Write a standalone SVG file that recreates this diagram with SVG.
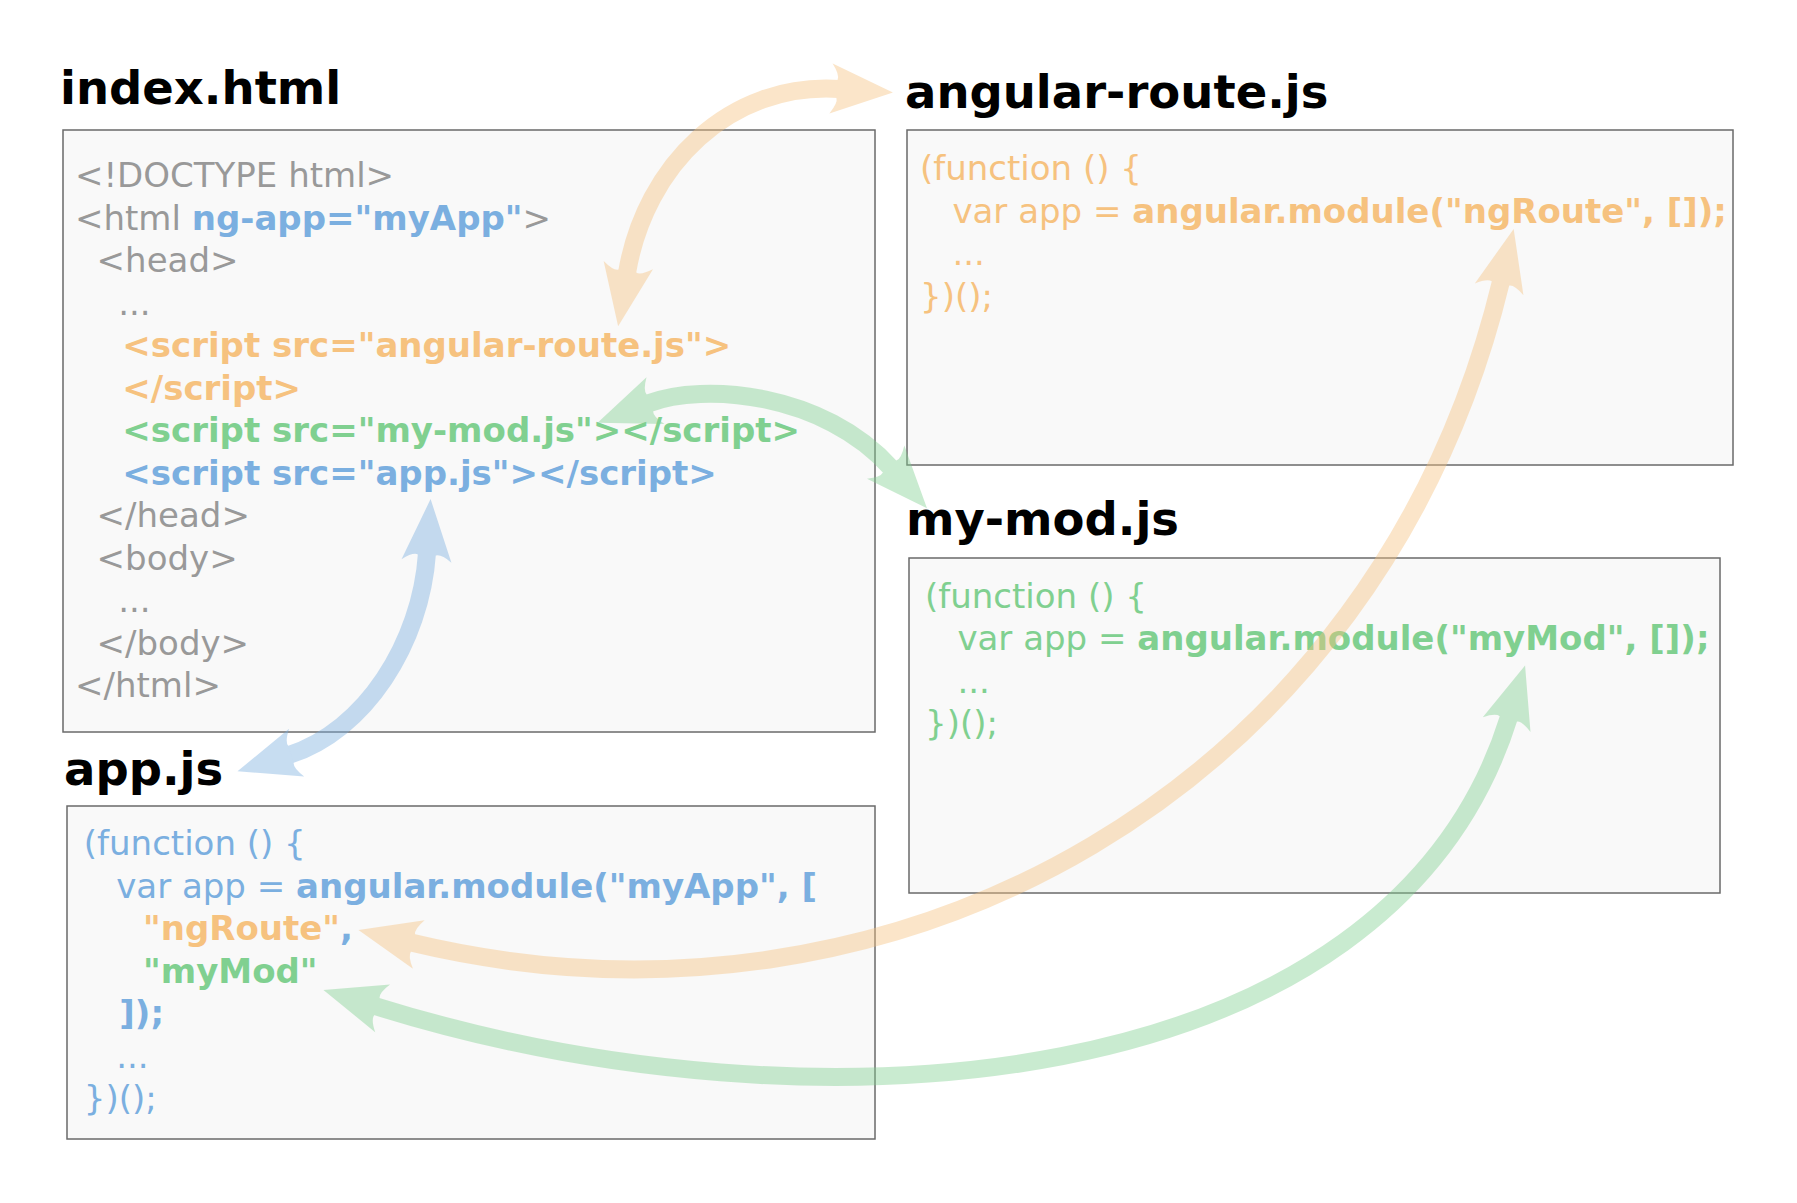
<svg xmlns="http://www.w3.org/2000/svg" width="1797" height="1203" viewBox="0 0 1797 1203">
<style>
  .box { fill: #f9f9f9; stroke: #6a6a6a; stroke-width: 1.5; }
  .title { font-family: "DejaVu Sans", "Liberation Sans", sans-serif; font-weight: bold; font-size: 46.5px; fill: #000; }
  .code { font-family: "DejaVu Sans", "Liberation Sans", sans-serif; font-size: 34px; }
  .b { font-weight: bold; }
  .gray { fill: #999999; }
  .blue { fill: #7bafe0; }
  .orange { fill: #f6c27f; }
  .green { fill: #80d090; }
  .arr { fill: none; stroke-width: 18; }
</style>
<defs>
  <marker id="hOr" markerUnits="userSpaceOnUse" orient="auto-start-reverse" viewBox="-10 -30 70 60" refX="0" refY="0" markerWidth="70" markerHeight="60" overflow="visible">
    <path d="M54,0 L-8,-25 Q0,-14 -2,-9 L-2,9 Q0,14 -8,25 Z" fill="#f6c27f"/>
  </marker>
  <marker id="hGr" markerUnits="userSpaceOnUse" orient="auto-start-reverse" viewBox="-10 -30 70 60" refX="0" refY="0" markerWidth="70" markerHeight="60" overflow="visible">
    <path d="M54,0 L-8,-25 Q0,-14 -2,-9 L-2,9 Q0,14 -8,25 Z" fill="#80d090"/>
  </marker>
  <marker id="hBl" markerUnits="userSpaceOnUse" orient="auto-start-reverse" viewBox="-10 -30 70 60" refX="0" refY="0" markerWidth="70" markerHeight="60" overflow="visible">
    <path d="M54,0 L-8,-25 Q0,-14 -2,-9 L-2,9 Q0,14 -8,25 Z" fill="#7bafe0"/>
  </marker>
</defs>

<g id="index-html">
  <text class="title" x="60" y="104">index.html</text>
  <rect class="box" x="63" y="130" width="812" height="602"/>
  <text class="code gray" x="75" y="187.3">&lt;!DOCTYPE html&gt;</text>
  <text class="code gray" x="75" y="229.8">&lt;html <tspan class="b blue">ng-app="myApp"</tspan>&gt;</text>
  <text class="code gray" x="96.6" y="272.3">&lt;head&gt;</text>
  <text class="code gray" x="118.2" y="314.8">...</text>
  <text class="code b orange" x="122.3" y="357.3">&lt;script src="angular-route.js"&gt;</text>
  <text class="code b orange" x="122.3" y="399.8">&lt;/script&gt;</text>
  <text class="code b green" x="122.3" y="442.3">&lt;script src="my-mod.js"&gt;&lt;/script&gt;</text>
  <text class="code b blue" x="122.3" y="484.8">&lt;script src="app.js"&gt;&lt;/script&gt;</text>
  <text class="code gray" x="96.6" y="527.3">&lt;/head&gt;</text>
  <text class="code gray" x="96.6" y="569.8">&lt;body&gt;</text>
  <text class="code gray" x="118.2" y="612.3">...</text>
  <text class="code gray" x="96.6" y="654.8">&lt;/body&gt;</text>
  <text class="code gray" x="75" y="697.3">&lt;/html&gt;</text>
</g>

<g id="angular-route-js">
  <text class="title" x="905" y="108">angular-route.js</text>
  <rect class="box" x="907" y="130" width="826" height="335"/>
  <text class="code orange" x="920" y="180">(function () {</text>
  <text class="code orange" x="952.4" y="222.5">var app = <tspan class="b">angular.module("ngRoute", []);</tspan></text>
  <text class="code orange" x="952.4" y="265">...</text>
  <text class="code orange" x="920" y="307.5">})();</text>
</g>

<g id="my-mod-js">
  <text class="title" x="906" y="535">my-mod.js</text>
  <rect class="box" x="909" y="558" width="811" height="335"/>
  <text class="code green" x="925" y="607.5">(function () {</text>
  <text class="code green" x="957.4" y="650">var app = <tspan class="b">angular.module("myMod", []);</tspan></text>
  <text class="code green" x="957.4" y="692.5">...</text>
  <text class="code green" x="925" y="735">})();</text>
</g>

<g id="app-js">
  <text class="title" x="64" y="785">app.js</text>
  <rect class="box" x="67" y="806" width="808" height="333"/>
  <text class="code blue" x="83.8" y="855">(function () {</text>
  <text class="code blue" x="116.2" y="897.5">var app = <tspan class="b">angular.module("myApp", [</tspan></text>
  <text class="code b" x="143" y="940"><tspan class="orange">"ngRoute"</tspan><tspan class="blue">,</tspan></text>
  <text class="code b green" x="143" y="982.5">"myMod"</text>
  <text class="code b blue" x="119.3" y="1025">]);</text>
  <text class="code blue" x="116.2" y="1067.5">...</text>
  <text class="code blue" x="83.8" y="1110">})();</text>
</g>

<g id="connectors">
  <g opacity="0.42">
    <path class="arr" stroke="#f6c27f" marker-start="url(#hOr)" marker-end="url(#hOr)" d="M627,273 C645,165 730,82 839,89"/>
  </g>
  <g opacity="0.42">
    <path class="arr" stroke="#80d090" marker-start="url(#hGr)" marker-end="url(#hGr)" d="M648,403.5 C704,382 824,393 891,468"/>
  </g>
  <g opacity="0.42">
    <path class="arr" stroke="#7bafe0" marker-start="url(#hBl)" marker-end="url(#hBl)" d="M427,553 C421,643 365,731 289,755"/>
  </g>
  <g opacity="0.42">
    <path class="arr" stroke="#f6c27f" marker-start="url(#hOr)" marker-end="url(#hOr)" d="M411,942.6 C897,1059 1379,787 1501,281.5"/>
  </g>
  <g opacity="0.42">
    <path class="arr" stroke="#80d090" marker-start="url(#hGr)" marker-end="url(#hGr)" d="M375,1006 C814,1143 1390,1099 1509,717"/>
  </g>
</g>
</svg>
